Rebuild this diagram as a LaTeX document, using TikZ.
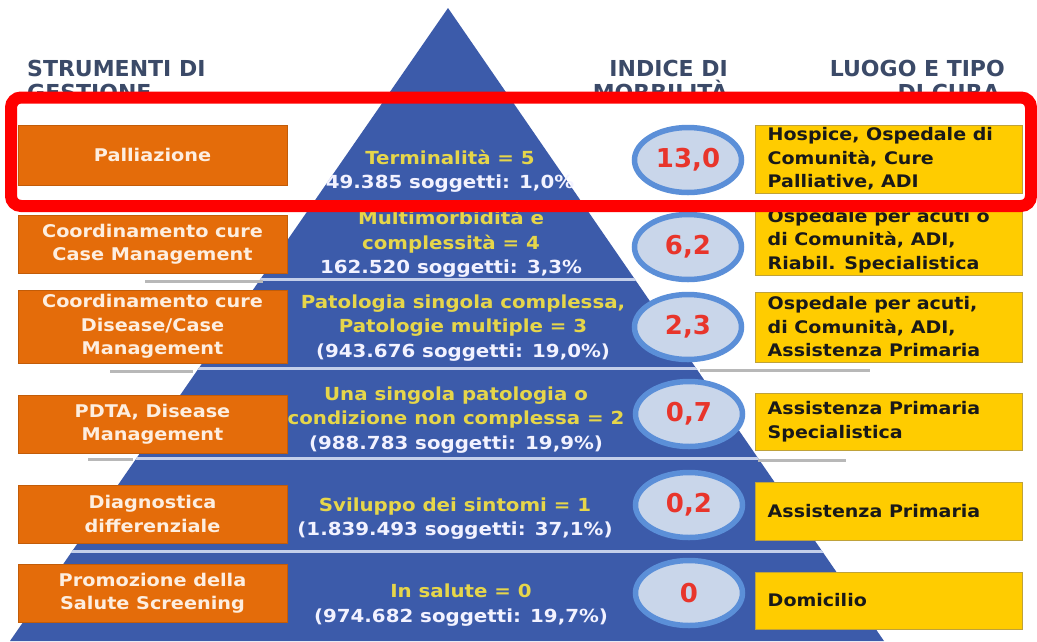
\documentclass[tikz,border=0pt]{standalone}
\usepackage{fontspec}
\usetikzlibrary{shapes.geometric}
\setmainfont{DejaVu Sans}
\newfontfamily\wf{DejaVu Sans}[FakeStretch=1.1]
\newfontfamily\hf{DejaVu Sans}
\definecolor{pyr}{HTML}{3C5BAA}
\definecolor{orng}{HTML}{E46C0A}
\definecolor{ylw}{HTML}{FFCC00}
\definecolor{ylwb}{HTML}{BFA23A}
\definecolor{ptxt}{HTML}{E6D64A}
\definecolor{hdr}{HTML}{3B4A68}
\definecolor{ering}{HTML}{5B8FD8}
\definecolor{efill}{HTML}{C9D6EA}
\definecolor{num}{HTML}{E8352B}
\definecolor{sepc}{HTML}{C4CFEA}
\definecolor{gline}{HTML}{B8B8B8}
\definecolor{otxt}{HTML}{FDEEE0}
\definecolor{redb}{HTML}{FF0000}
\begin{document}
\begin{tikzpicture}[x=1pt,y=-1pt,
  obox/.style={fill=orng, draw=orng!85!black, line width=0.8pt, minimum width=269pt, inner sep=0pt, align=center, text=otxt, font=\wf\bfseries\fontsize{17.5}{23.5}\selectfont},
  ybox/.style={fill=ylw, draw=ylwb, line width=1pt, minimum width=267pt, inner sep=0pt},
  ytext/.style={anchor=west, align=left, inner sep=0pt, text=black!90, font=\wf\bfseries\fontsize{17.3}{23.5}\selectfont},
  ptext/.style={align=center, inner sep=0pt, text=white!95!blue, font=\wf\bfseries\fontsize{18}{24.5}\selectfont},
  ell/.style={ellipse, fill=efill, draw=ering, line width=5.5pt, minimum width=107pt, minimum height=65pt, inner sep=0pt, text=num, font=\bfseries\fontsize{26}{30}\selectfont},
  hdrtext/.style={inner sep=0pt, text=hdr, font=\hf\bfseries\fontsize{22}{24}\selectfont},
  sepl/.style={draw=sepc, line width=3pt},
  gl/.style={draw=gline, line width=3pt},
  redframe/.style={draw=redb, line width=12pt, rounded corners=10pt}
]
\useasboundingbox (0,0) rectangle (1037,641);
\fill[white] (0,0) rectangle (1037,641);

% pyramid
\fill[pyr] (448,8) -- (884,641) -- (10,641) -- cycle;
\begin{scope}
  \clip (448,8) -- (884,641) -- (10,641) -- cycle;
  \foreach \yy in {205,279,368,458,551} \draw[sepl] (0,\yy) -- (1037,\yy);
\end{scope}

% grey extension lines
\draw[gl] (145,281) -- (263,281);
\draw[gl] (110,371) -- (193,371);
\draw[gl] (88,459) -- (133,459);
\draw[gl] (700,370) -- (870,370);
\draw[gl] (758,460) -- (846,460);

% pyramid texts
\node[ptext] (t1) at (450,171) {\textcolor{ptxt}{Terminalità = 5}\\49.385 soggetti: 1,0\%};
\node[ptext] (t2) at (451,244) {\textcolor{ptxt}{Multimorbidità e}\\\textcolor{ptxt}{complessità = 4}\\162.520 soggetti: 3,3\%};
\node[ptext] (t3) at (463,328) {\textcolor{ptxt}{Patologia singola complessa,}\\\textcolor{ptxt}{Patologie multiple = 3}\\(943.676 soggetti: 19,0\%)};
\node[ptext] (t4) at (456,420) {\textcolor{ptxt}{Una singola patologia o}\\\textcolor{ptxt}{condizione non complessa = 2}\\(988.783 soggetti: 19,9\%)};
\node[ptext] (t5) at (455,518.5) {\textcolor{ptxt}{Sviluppo dei sintomi = 1}\\(1.839.493 soggetti: 37,1\%)};
\node[ptext] (t6) at (461,605) {\textcolor{ptxt}{In salute = 0}\\(974.682 soggetti: 19,7\%)};

% orange boxes
\node[obox, minimum height=60pt] (o1) at (152.5,155) {Palliazione};
\node[obox, minimum height=58pt] (o2) at (152.5,244) {Coordinamento cure\\Case Management};
\node[obox, minimum height=73pt] (o3) at (152.5,326.5) {Coordinamento cure\\Disease/Case\\Management};
\node[obox, minimum height=58pt] (o4) at (152.5,424) {PDTA, Disease\\Management};
\node[obox, minimum height=58pt] (o5) at (152.5,514) {Diagnostica\\differenziale};
\node[obox, minimum height=58pt] (o6) at (152.5,593) {Promozione della\\Salute Screening};

% ellipses
\node[ell] (e1) at (688,160) {13,0};
\node[ell] (e2) at (688,247) {6,2};
\node[ell] (e3) at (688,327) {2,3};
\node[ell] (e4) at (689,414) {0,7};
\node[ell] (e5) at (689,505) {0,2};
\node[ell] (e6) at (689,593) {0};

% yellow boxes
\node[ybox, minimum height=68pt] (y1) at (888.5,159) {};
\node[ybox, minimum height=68pt] (y2) at (888.5,241) {};
\node[ybox, minimum height=70pt] (y3) at (888.5,327) {};
\node[ybox, minimum height=57pt] (y4) at (888.5,421.5) {};
\node[ybox, minimum height=58pt] (y5) at (888.5,511) {};
\node[ybox, minimum height=57pt] (y6) at (888.5,600.5) {};
\node[ytext] (yt1) at ([xshift=13pt]y1.west) {Hospice, Ospedale di\\Comunità, Cure\\Palliative, ADI};
\node[ytext] (yt2) at ([xshift=13pt]y2.west) {Ospedale per acuti o\\di Comunità, ADI,\\Riabil. Specialistica};
\node[ytext] (yt3) at ([xshift=13pt]y3.west) {Ospedale per acuti,\\di Comunità, ADI,\\Assistenza Primaria};
\node[ytext] (yt4) at ([xshift=13pt]y4.west) {Assistenza Primaria\\Specialistica};
\node[ytext] (yt5) at ([xshift=13pt]y5.west) {Assistenza Primaria};
\node[ytext] (yt6) at ([xshift=13pt]y6.west) {Domicilio};

% headers
\node[hdrtext, anchor=base west] (h1a) at (27,76) {STRUMENTI DI};
\node[hdrtext, anchor=base west] (h1b) at (27,100) {GESTIONE};
\node[hdrtext, anchor=base east] (h2a) at (728,76) {INDICE DI};
\node[hdrtext, anchor=base east] (h2b) at (728,100) {MORBILITÀ};
\node[hdrtext, anchor=base east] (h3a) at (1005,76) {LUOGO E TIPO};
\node[hdrtext, anchor=base east] (h3b) at (1000,100) {DI CURA};

% red highlight frame
\draw[redframe] (11,97.5) rectangle (1031,206);
\end{tikzpicture}
\end{document}
